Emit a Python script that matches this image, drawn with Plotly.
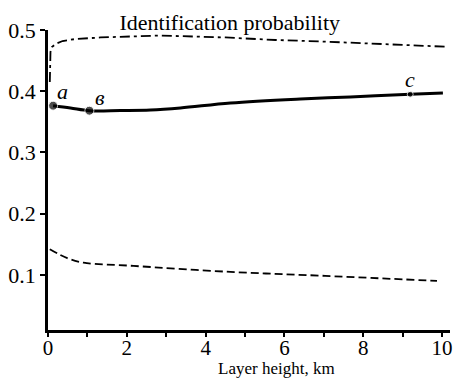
import plotly.graph_objects as go

# Solid curve (with marked points a, в, c)
solid_x = [0.13, 0.57, 1.05, 1.84, 2.6, 3.36, 4.63, 6.4, 7.67, 9.19, 10.02]
solid_y = [0.3764, 0.3727, 0.3682, 0.3686, 0.3694, 0.3727, 0.3808, 0.3873, 0.3906, 0.395, 0.3971]

# Dash-dot curve (upper)
dd_x = [0.046, 0.05, 0.063, 0.10, 0.19, 0.37, 0.70, 1.33, 2.85, 4.5, 5.77, 7.03, 8.55, 10.08]
dd_y = [0.4151, 0.451, 0.4641, 0.4722, 0.4771, 0.482, 0.4853, 0.4878, 0.491, 0.4878, 0.4837, 0.481, 0.4771, 0.4727]

# Dashed curve (lower)
dash_x = [0.046, 0.49, 0.9, 2.17, 4.63, 7.03, 9.87]
dash_y = [0.142, 0.1273, 0.120, 0.1147, 0.1049, 0.0984, 0.0902]

# Marked points
pt_labels = ["a", "в", "c"]
pt_x = [0.13, 1.05, 9.19]
pt_y = [0.3764, 0.3682, 0.395]
pt_sizes = [9, 9, 6]
lbl_x = [0.37, 1.33, 9.19]
lbl_y = [0.3988, 0.389, 0.4184]

x_ticks = [0, 1, 2, 3, 4, 5, 6, 7, 8, 9, 10]
x_ticktext = ["0", "", "2", "", "4", "", "6", "", "8", "", "10"]
y_ticks = [0.1, 0.2, 0.3, 0.4, 0.5]
y_ticktext = ["0.1", "0.2", "0.3", "0.4", "0.5"]

font = "Liberation Serif"
tfont = dict(family=font, size=22, color="black")

fig = go.Figure()
fig.add_trace(go.Scatter(x=dd_x, y=dd_y, mode="lines",
                         line=dict(color="black", width=1.8, dash="10px,4px,3px,4px"),
                         showlegend=False))
fig.add_trace(go.Scatter(x=solid_x, y=solid_y, mode="lines", line_shape="spline",
                         line=dict(color="black", width=3), showlegend=False))
fig.add_trace(go.Scatter(x=dash_x, y=dash_y, mode="lines", line_shape="spline",
                         line=dict(color="black", width=1.8, dash="8px,4px"),
                         showlegend=False))
fig.add_trace(go.Scatter(x=pt_x, y=pt_y, mode="markers",
                         marker=dict(color="black", size=pt_sizes),
                         cliponaxis=False, showlegend=False))

for t, x, y in zip(pt_labels, lbl_x, lbl_y):
    fig.add_annotation(x=x, y=y, text="<i>" + t + "</i>", showarrow=False,
                       font=tfont, xanchor="center", yanchor="middle")

# x-axis title placed just above the bottom edge
fig.add_annotation(x=(276 - 47.5) / 402.5, xref="paper", y=(330 - 379) / 300, yref="paper",
                   text="Layer height, km", showarrow=False,
                   font=dict(family=font, size=17, color="black"),
                   xanchor="center", yanchor="bottom", borderpad=0)

fig.update_layout(
    width=455, height=379,
    margin=dict(l=47.5, r=5, t=30, b=49),
    paper_bgcolor="white", plot_bgcolor="white",
    font=tfont,
    title=dict(text="Identification probability", x=0.505, xref="container",
               y=1 - 22 / 379, yref="container", xanchor="center", yanchor="middle",
               font=tfont),
    xaxis=dict(range=[0, 10.2], tickvals=x_ticks, ticktext=x_ticktext,
               ticks="outside", ticklen=4, tickwidth=1.5, tickcolor="black",
               ticklabelstandoff=-7,
               showline=True, linecolor="black", linewidth=2.5,
               showgrid=False, zeroline=False, automargin=False,
               tickfont=dict(family=font, size=21, color="black")),
    yaxis=dict(range=[0.01, 0.5], tickvals=y_ticks, ticktext=y_ticktext,
               ticks="outside", ticklen=5, tickwidth=1.5, tickcolor="black",
               showline=True, linecolor="black", linewidth=2.5,
               showgrid=False, zeroline=False, automargin=False, tickfont=tfont),
)

fig.write_html("out.html", config={"displayModeBar": False},
               post_script="document.body.style.margin='0px';")
